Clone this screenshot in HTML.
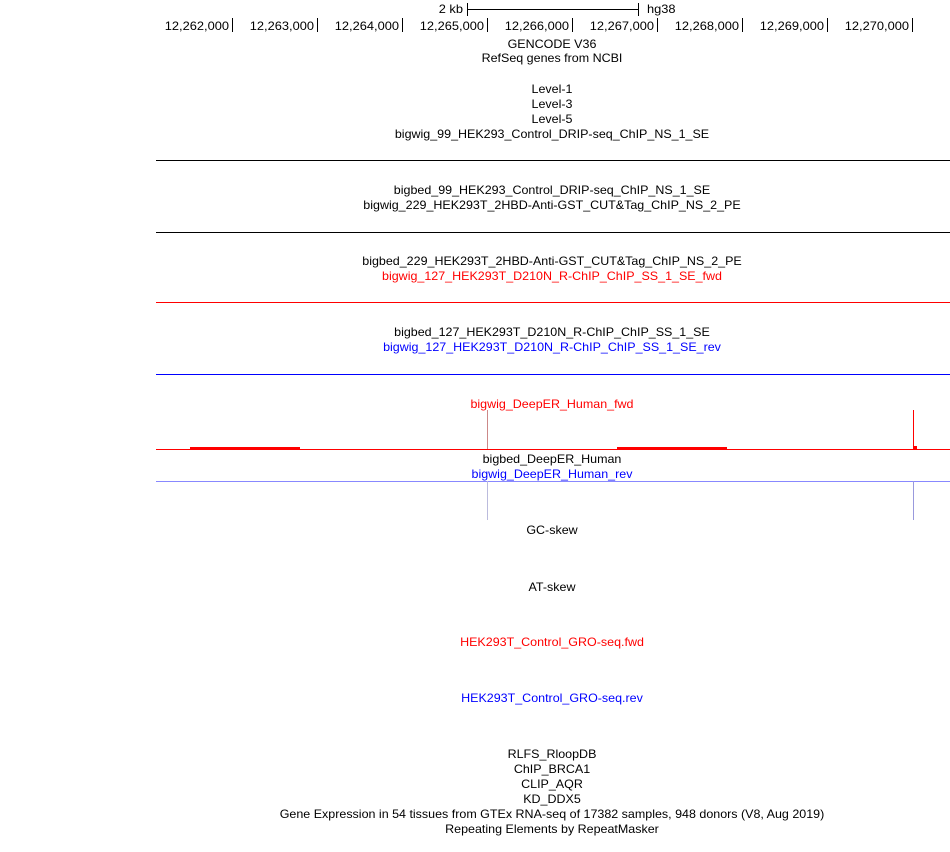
<!DOCTYPE html>
<html><head><meta charset="utf-8"><style>
body{margin:0;background:#fff;width:950px;height:852px;position:relative;overflow:hidden;font-family:"Liberation Sans",sans-serif;font-size:12px;}
.t{position:absolute;left:152px;width:800px;text-align:center;line-height:14px;transform:scaleX(1.04);transform-origin:400px 0;white-space:nowrap;}
.r{color:#f00}.b{color:#00f}
.l{position:absolute;left:156px;width:794px;height:1px;}
.n{position:absolute;line-height:14px;white-space:nowrap;transform:scaleX(1.07);transform-origin:100% 0;text-align:right;}
.k{position:absolute;width:1px;background:#000;}
</style></head><body>
<div class="n" style="left:380px;width:83px;top:2px">2 kb</div>
<div class="k" style="left:467px;top:3px;height:13px"></div>
<div style="position:absolute;left:467px;top:9px;width:171px;height:1px;background:#000"></div>
<div class="k" style="left:638px;top:3px;height:13px"></div>
<div style="position:absolute;left:647px;top:2px;line-height:14px;transform:scaleX(1.07);transform-origin:0 0">hg38</div>

<div class="n" style="left:130px;width:99px;top:19px">12,262,000</div><div class="k" style="left:232px;top:18px;height:14px"></div>
<div class="n" style="left:215px;width:99px;top:19px">12,263,000</div><div class="k" style="left:317px;top:18px;height:14px"></div>
<div class="n" style="left:300px;width:99px;top:19px">12,264,000</div><div class="k" style="left:402px;top:18px;height:14px"></div>
<div class="n" style="left:385px;width:99px;top:19px">12,265,000</div><div class="k" style="left:487px;top:18px;height:14px"></div>
<div class="n" style="left:470px;width:99px;top:19px">12,266,000</div><div class="k" style="left:572px;top:18px;height:14px"></div>
<div class="n" style="left:555px;width:99px;top:19px">12,267,000</div><div class="k" style="left:657px;top:18px;height:14px"></div>
<div class="n" style="left:640px;width:99px;top:19px">12,268,000</div><div class="k" style="left:742px;top:18px;height:14px"></div>
<div class="n" style="left:725px;width:99px;top:19px">12,269,000</div><div class="k" style="left:827px;top:18px;height:14px"></div>
<div class="n" style="left:810px;width:99px;top:19px">12,270,000</div><div class="k" style="left:912px;top:18px;height:14px"></div>

<div class="t" style="top:37px">GENCODE V36</div>
<div class="t" style="top:51px">RefSeq genes from NCBI</div>
<div class="t" style="top:82px">Level-1</div>
<div class="t" style="top:97px">Level-3</div>
<div class="t" style="top:112px">Level-5</div>
<div class="t" style="top:127px">bigwig_99_HEK293_Control_DRIP-seq_ChIP_NS_1_SE</div>
<div class="l" style="top:160px;background:#000"></div>
<div class="t" style="top:183px">bigbed_99_HEK293_Control_DRIP-seq_ChIP_NS_1_SE</div>
<div class="t" style="top:198px">bigwig_229_HEK293T_2HBD-Anti-GST_CUT&amp;Tag_ChIP_NS_2_PE</div>
<div class="l" style="top:232px;background:#000"></div>
<div class="t" style="top:254px">bigbed_229_HEK293T_2HBD-Anti-GST_CUT&amp;Tag_ChIP_NS_2_PE</div>
<div class="t r" style="top:269px">bigwig_127_HEK293T_D210N_R-ChIP_ChIP_SS_1_SE_fwd</div>
<div class="l" style="top:302px;background:#f00"></div>
<div class="t" style="top:325px">bigbed_127_HEK293T_D210N_R-ChIP_ChIP_SS_1_SE</div>
<div class="t b" style="top:340px">bigwig_127_HEK293T_D210N_R-ChIP_ChIP_SS_1_SE_rev</div>
<div class="l" style="top:374px;background:#00f"></div>
<div class="t r" style="top:397px">bigwig_DeepER_Human_fwd</div>
<div class="l" style="top:449px;background:#f00"></div>
<div style="position:absolute;left:190px;top:447px;width:110px;height:2px;background:#f00"></div>
<div style="position:absolute;left:617px;top:447px;width:110px;height:2px;background:#f00"></div>
<div style="position:absolute;left:487px;top:410px;width:1px;height:39px;background:#c88"></div>
<div style="position:absolute;left:913px;top:410px;width:1px;height:39px;background:#f00"></div>
<div style="position:absolute;left:913px;top:446px;width:4px;height:3px;background:#f00"></div>
<div class="t" style="top:452px">bigbed_DeepER_Human</div>
<div class="t b" style="top:467px">bigwig_DeepER_Human_rev</div>
<div class="l" style="top:481px;background:#88f"></div>
<div style="position:absolute;left:487px;top:481px;width:1px;height:39px;background:#bbd"></div>
<div style="position:absolute;left:913px;top:481px;width:1px;height:39px;background:#99d"></div>
<div class="t" style="top:523px">GC-skew</div>
<div class="t" style="top:580px">AT-skew</div>
<div class="t r" style="top:635px">HEK293T_Control_GRO-seq.fwd</div>
<div class="t b" style="top:691px">HEK293T_Control_GRO-seq.rev</div>
<div class="t" style="top:747px">RLFS_RloopDB</div>
<div class="t" style="top:762px">ChIP_BRCA1</div>
<div class="t" style="top:777px">CLIP_AQR</div>
<div class="t" style="top:792px">KD_DDX5</div>
<div class="t" style="top:807px">Gene Expression in 54 tissues from GTEx RNA-seq of 17382 samples, 948 donors (V8, Aug 2019)</div>
<div class="t" style="top:822px">Repeating Elements by RepeatMasker</div>
</body></html>
